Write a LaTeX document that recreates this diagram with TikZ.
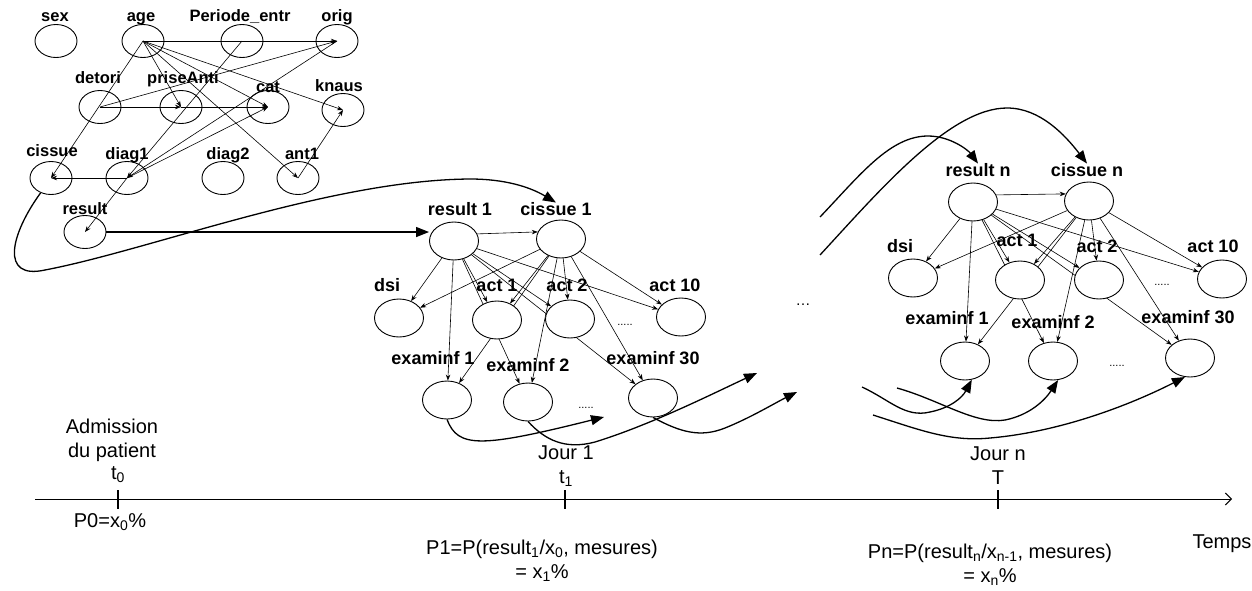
\documentclass[tikz,border=0pt]{standalone}
\usepackage{fontspec}
\setmainfont{Liberation Sans}
\usetikzlibrary{arrows.meta, shapes.geometric, backgrounds}

\tikzset{
	var/.style={draw, ellipse, line width=0.9pt, minimum width=42pt, minimum height=33pt, inner sep=0pt},
	etat/.style={draw, ellipse, fill=white, line width=0.9pt, minimum width=49pt, minimum height=38pt, inner sep=0pt},
	nom/.style={font=\bfseries\fontsize{16.5}{17}\selectfont, inner sep=0pt, text height=12pt, text depth=3pt},
	nomj/.style={font=\bfseries\fontsize{18}{19}\selectfont, inner sep=0pt, text height=13pt, text depth=3.5pt},
	txt/.style={font=\fontsize{20}{24}\selectfont, align=center, inner sep=0pt},
	pts/.style={font=\fontsize{11}{12}\selectfont, inner sep=0pt},
	fl/.style={line width=0.6pt, -{Stealth[length=6pt,width=4.5pt]}},
	saut/.style={line width=1.3pt, -{Triangle[length=13pt,width=10pt]}},
	axe/.style={line width=1pt, -{Straight Barb[length=6pt,width=12pt]}},
	cran/.style={line width=2pt}
}

\begin{document}
\begin{tikzpicture}[x=1pt,y=-1pt]
	\useasboundingbox (0,0) rectangle (1252,590);
	
	% variables a l'admission
	\node[var] (sex) at (56,41) {};
	\node[var] (age) at (143,41) {};
	\node[var] (periode) at (242,41) {};
	\node[var] (orig) at (337,41) {};
	\node[var] (detori) at (100,107) {};
	\node[var] (prise) at (181,107) {};
	\node[var] (cat) at (268,107) {};
	\node[var] (knaus) at (343,110) {};
	\node[var] (cissue) at (51,178) {};
	\node[var] (diag1) at (127,178) {};
	\node[var] (diag2) at (223,178) {};
	\node[var] (ant1) at (298,178) {};
	\node[var] (result) at (85,232) {};
	
	\node[nom] (sex-t) at (55,17) {sex};
	\node[nom] (age-t) at (141,17) {age};
	\node[nom] (periode-t) at (240,17) {Periode\_entr};
	\node[nom] (orig-t) at (337,17) {orig};
	\node[nom] (detori-t) at (98,79) {detori};
	\node[nom] (prise-t) at (183,79) {priseAnti};
	\node[nom] (cat-t) at (268,88) {cat};
	\node[nom] (knaus-t) at (339,87) {knaus};
	\node[nom] (cissue-t) at (52,152) {cissue};
	\node[nom] (diag1-t) at (127,155) {diag1};
	\node[nom] (diag2-t) at (228,155) {diag2};
	\node[nom] (ant1-t) at (302,155) {ant1};
	\node[nom] (result-t) at (85,210) {result};
	
	\draw[fl] (age.center) -- (orig.center);
	\draw[fl] (age.center) -- (cissue.center);
	\draw[fl] (age.center) -- (prise.center);
	\draw[fl] (age.center) -- (cat.center);
	\draw[fl] (age.center) -- (knaus.center);
	\draw[fl] (age.center) -- (ant1.center);
	\draw[fl] (periode.center) -- (diag1.center);
	\draw[fl] (diag1.center) -- (result.center);
	\draw[fl] (detori.center) -- (prise.center);
	\draw[fl] (prise.center) -- (cat.center);
	\draw[fl] (detori.center) -- (orig.center);
	\draw[fl] (orig.center) -- (diag1.center);
	\draw[fl] (diag1.center) -- (cat.center);
	\draw[fl] (diag1.center) -- (cissue.center);
	\draw[fl] (ant1.center) -- (knaus.center);
	
	% jour 1
	\node[etat] (res-1) at (454,241) {};
	\node[etat] (cis-1) at (561,239) {};
	\node[etat] (dsi-1) at (399,318) {};
	\node[etat] (act1-1) at (497,320) {};
	\node[etat] (act2-1) at (570,319) {};
	\node[etat] (act10-1) at (681,317) {};
	\node[etat] (ex1-1) at (447,400) {};
	\node[etat] (ex2-1) at (528,402) {};
	\node[etat] (ex30-1) at (653,398) {};
	
	\node[nomj] (res-1-t) at (460,211) {result 1};
	\node[nomj] (cis-1-t) at (556,211) {cissue 1};
	\node[nomj] (dsi-1-t) at (387,287) {dsi};
	\node[nomj] (act1-1-t) at (497,287) {act 1};
	\node[nomj] (act2-1-t) at (567,287) {act 2};
	\node[nomj] (act10-1-t) at (675,287) {act 10};
	\node[nomj] (ex1-1-t) at (433,360) {examinf 1};
	\node[nomj] (ex2-1-t) at (528,367) {examinf 2};
	\node[nomj] (ex30-1-t) at (653,360) {examinf 30};
	\node[pts] (pts-a1) at (625,325) {.....};
	\node[pts] (pts-e1) at (586,408) {.....};
	
	\begin{pgfonlayer}{background}
		\draw[fl] (res-1.17) -- (cis-1.163);
		\draw[fl] (res-1) -- (dsi-1);
		\draw[fl] (res-1) -- (act1-1);
		\draw[fl] (res-1) -- (act2-1);
		\draw[fl] (res-1) -- (act10-1);
		\draw[fl] (res-1) -- (ex1-1);
		\draw[fl] (res-1) -- (ex2-1);
		\draw[fl] (res-1) -- (ex30-1);
		\draw[fl] (cis-1) -- (dsi-1);
		\draw[fl] (cis-1) -- (act1-1);
		\draw[fl] (cis-1) -- (act2-1);
		\draw[fl] (cis-1) -- (act10-1);
		\draw[fl] (cis-1) -- (ex1-1);
		\draw[fl] (cis-1) -- (ex2-1);
		\draw[fl] (cis-1) -- (ex30-1);
	\end{pgfonlayer}
	
	% jour n
	\node[etat] (res-n) at (973,202) {};
	\node[etat] (cis-n) at (1089,201) {};
	\node[etat] (dsi-n) at (913,278) {};
	\node[etat] (act1-n) at (1020,280) {};
	\node[etat] (act2-n) at (1099,280) {};
	\node[etat] (act10-n) at (1222,279) {};
	\node[etat] (ex1-n) at (965,361) {};
	\node[etat] (ex2-n) at (1053,361) {};
	\node[etat] (ex30-n) at (1190,358) {};
	
	\node[nomj] (res-n-t) at (978,172) {result n};
	\node[nomj] (cis-n-t) at (1087,172) {cissue n};
	\node[nomj] (dsi-n-t) at (900,248) {dsi};
	\node[nomj] (act1-n-t) at (1017,242) {act 1};
	\node[nomj] (act2-n-t) at (1097,248) {act 2};
	\node[nomj] (act10-n-t) at (1213,248) {act 10};
	\node[nomj] (ex1-n-t) at (947,320) {examinf 1};
	\node[nomj] (ex2-n-t) at (1053,324) {examinf 2};
	\node[nomj] (ex30-n-t) at (1188,319) {examinf 30};
	\node[pts] (pts-an) at (1162,285) {.....};
	\node[pts] (pts-en) at (1117,366) {.....};
	
	\begin{pgfonlayer}{background}
		\draw[fl] (res-n.17) -- (cis-n.163);
		\draw[fl] (res-n) -- (dsi-n);
		\draw[fl] (res-n) -- (act1-n);
		\draw[fl] (res-n) -- (act2-n);
		\draw[fl] (res-n) -- (act10-n);
		\draw[fl] (res-n) -- (ex1-n);
		\draw[fl] (res-n) -- (ex2-n);
		\draw[fl] (res-n) -- (ex30-n);
		\draw[fl] (cis-n) -- (dsi-n);
		\draw[fl] (cis-n) -- (act1-n);
		\draw[fl] (cis-n) -- (act2-n);
		\draw[fl] (cis-n) -- (act10-n);
		\draw[fl] (cis-n) -- (ex1-n);
		\draw[fl] (cis-n) -- (ex2-n);
		\draw[fl] (cis-n) -- (ex30-n);
	\end{pgfonlayer}
	
	\node[font=\fontsize{15}{16}\selectfont] (etc) at (803,305) {\dots};
	
	% passages d'un jour a l'autre
	\coordinate (f1) at (604,417);
	\coordinate (f2) at (757,373);
	\coordinate (f3) at (797,392);
	\coordinate (g1) at (862,387);
	\coordinate (g2) at (897,388);
	\coordinate (g3) at (873,415);
	\coordinate (h1) at (820,217);
	\coordinate (h2) at (820,255);
	
	\draw[saut] (result.east) -- (res-1.west |- result.east);
	\draw[saut] (cissue.235) .. controls (10,235) and (0,280) .. (45,270) .. controls (150,250) and (330,180) .. (470,179) .. controls (505,179) and (530,187) .. (cis-1-t.north);
	\draw[saut] (ex1-1.south) .. controls (458,448) and (480,448) .. (f1);
	\draw[saut] (ex2-1.south) .. controls (545,440) and (565,450) .. (595,442) .. controls (650,425) and (710,395) .. (f2);
	\draw[saut] (ex30-1.south) .. controls (680,432) and (700,438) .. (725,428) .. controls (750,418) and (775,403) .. (f3);
	\draw[saut] (h1) .. controls (860,175) and (890,136) .. (928,136) .. controls (950,136) and (968,150) .. (res-n-t.north);
	\draw[saut] (h2) .. controls (880,190) and (950,108) .. (1007,108) .. controls (1040,108) and (1065,135) .. (cis-n-t.north);
	\draw[saut] (g1) .. controls (890,400) and (905,418) .. (930,412) .. controls (950,408) and (962,398) .. (ex1-n.290);
	\draw[saut] (g2) .. controls (940,400) and (975,425) .. (1005,420) .. controls (1030,415) and (1045,400) .. (ex2-n.285);
	\draw[saut] (g3) .. controls (920,430) and (950,442) .. (990,438) .. controls (1060,432) and (1130,405) .. (ex30-n.255);
	
	% axe du temps
	\coordinate (t-deb) at (35,499);
	\coordinate (t-fin) at (1232,499);
	\draw[axe] (t-deb) -- (t-fin);
	\draw[cran] (118,490) -- (118,509);
	\draw[cran] (565,490) -- (565,509);
	\draw[cran] (998,490) -- (998,509);
	
	\node[txt] (adm) at (112,440) {Admission\\du patient};
	\node[txt] (t0) at (118,475) {t\textsubscript{0}};
	\node[txt] (jour1) at (566,466) {Jour 1\\t\textsubscript{1}};
	\node[txt] (journ) at (998,466) {Jour n\\T};
	\node[txt] (p0) at (110,522) {P0=x\textsubscript{0}\%};
	\node[txt] (p1) at (542,561) {P1=P(result\textsubscript{1}/x\textsubscript{0}, mesures)\\= x\textsubscript{1}\%};
	\node[txt] (pn) at (990,565) {Pn=P(result\textsubscript{n}/x\textsubscript{n-1}, mesures)\\= x\textsubscript{n}\%};
	\node[txt] (temps) at (1222,544) {Temps};
\end{tikzpicture}
\end{document}
